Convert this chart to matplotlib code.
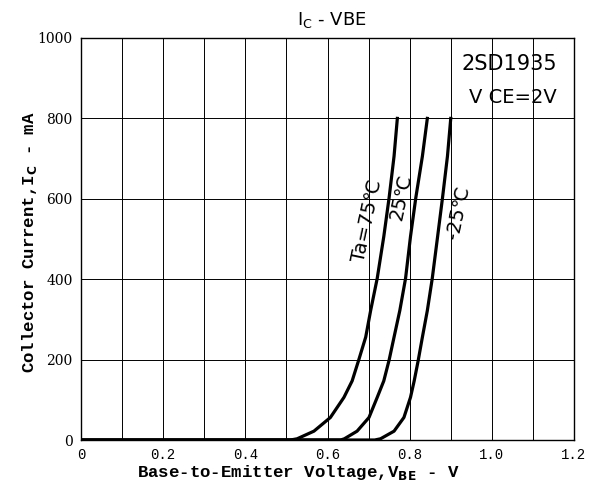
import numpy as np
import matplotlib
matplotlib.use("Agg")
import matplotlib.pyplot as plt

# I_C - V_BE curves (V, mA)
i_pts = [0, 0, 3, 22, 56, 106, 147, 199, 256, 322, 402, 506, 603, 706, 800]
v_75 = [0.0, 0.51, 0.526, 0.567, 0.607, 0.640, 0.660, 0.676, 0.693, 0.705,
        0.721, 0.737, 0.750, 0.762, 0.770]
v_25 = [0.0, 0.632, 0.641, 0.672, 0.701, 0.721, 0.737, 0.750, 0.762, 0.776,
        0.790, 0.802, 0.815, 0.831, 0.843]
v_m25 = [0.0, 0.715, 0.729, 0.762, 0.786, 0.802, 0.811, 0.821, 0.831, 0.843,
         0.855, 0.868, 0.880, 0.892, 0.900]

xticks = [0, 0.2, 0.4, 0.6, 0.8, 1.0, 1.2]
xticklabels = ["0", "0.2", "0.4", "0.6", "0.8", "1.0", "1.2"]
yticks = [0, 200, 400, 600, 800, 1000]

fig = plt.figure(figsize=(5.97, 4.95), dpi=100)
ax = fig.add_axes([81/597, 1-440/495, (574-81)/597, (440-38)/495])

for v in [v_75, v_25, v_m25]:
    ax.plot(v, i_pts, color="black", lw=2.3, solid_joinstyle="round", zorder=3)

ax.set_xlim(0, 1.2)
ax.set_ylim(0, 1000)
ax.set_xticks(xticks)
ax.set_xticklabels(xticklabels, family="Liberation Mono", fontsize=10)
ax.set_yticks(yticks)
ax.set_yticklabels([str(t) for t in yticks], family="DejaVu Serif", fontsize=10)
ax.set_xticks(np.arange(0.1, 1.2, 0.2), minor=True)
ax.tick_params(which="both", length=0, pad=6)
ax.grid(True, which="both", axis="x", color="black", lw=0.7)
ax.grid(True, which="major", axis="y", color="black", lw=0.7)
for s in ax.spines.values():
    s.set_linewidth(1.0)

# labels
fig.text(298/597, 1-473/495, "Base-to-Emitter Voltage,V$_{\\mathbf{BE}}$ - V",
         ha="center", va="center", family="Liberation Mono", weight="bold", fontsize=12.5)
fig.text(30/597, 1-242/495, "Collector Current,I$_{\\mathbf{C}}$ - mA", rotation=90,
         ha="center", va="center", family="Liberation Mono", weight="bold", fontsize=12.5)
fig.text(332/597, 1-20/495, "I$_{\\mathrm{C}}$ - VBE", ha="center", va="center", fontsize=13)

ax.text(0.965, 0.96, "2SD1935", transform=ax.transAxes, ha="right", va="top", fontsize=15)
ax.text(0.965, 0.875, "V CE=2V", transform=ax.transAxes, ha="right", va="top", fontsize=14)

ax.text(0.698, 545, "Ta=75\u2103", rotation=78, ha="center", va="center", fontsize=14)
ax.text(0.778, 605, "25\u2103", rotation=78, ha="center", va="center", fontsize=14)
ax.text(0.917, 565, "-25\u2103", rotation=78, ha="center", va="center", fontsize=14)

fig.savefig("out.png", dpi=100)
